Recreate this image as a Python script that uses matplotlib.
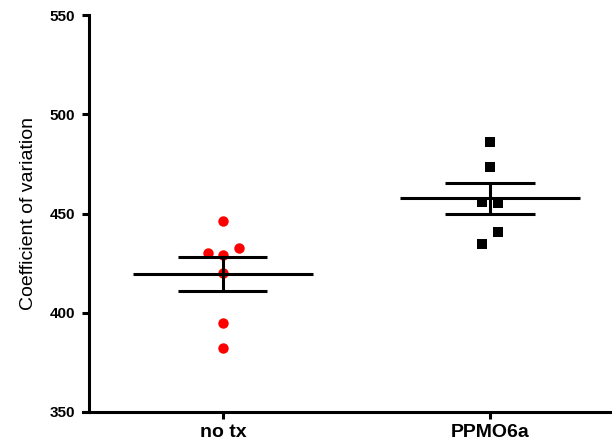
import numpy as np
import matplotlib
matplotlib.use("Agg")
import matplotlib.pyplot as plt

plt.rcParams['font.family'] = ['Liberation Sans', 'DejaVu Sans']

# Coefficient of variation per sample
groups = ["no tx", "PPMO6a"]
no_tx = [446.2, 430.3, 432.8, 429.1, 419.9, 395.0, 382.4]
ppmo6a = [485.9, 473.6, 455.9, 455.1, 440.5, 434.6]

# horizontal spread of overlapping points (scatter layout)
no_tx_dx = [0, -0.056, 0.060, 0, 0, 0, 0]
ppmo6a_dx = [0, 0, -0.030, 0.030, 0.030, -0.030]

fig = plt.figure(figsize=(6.12, 4.43), dpi=100)
ax = fig.add_axes([0.146, 0.070, 0.854, 0.896])

data = [no_tx, ppmo6a]
offsets = [no_tx_dx, ppmo6a_dx]
styles = [dict(marker='o', color='#ff0000', ms=7.5),
          dict(marker='s', color='black', ms=7)]

for i, (vals, dx, st) in enumerate(zip(data, offsets, styles)):
    vals = np.array(vals)
    mean = vals.mean()
    sem = vals.std(ddof=1) / np.sqrt(len(vals))
    ax.plot(i + np.array(dx), vals, linestyle='none', marker=st['marker'],
            color=st['color'], markersize=st['ms'], markeredgewidth=0, zorder=2)
    ax.hlines(mean, i - 0.336, i + 0.336, color='black', lw=2.2, zorder=3)
    ax.hlines([mean - sem, mean + sem], i - 0.167, i + 0.167, color='black', lw=2.2, zorder=3)
    ax.vlines(i, mean - sem, mean + sem, color='black', lw=2.2, zorder=3)

ax.set_xlim(-0.5, 1.457)
ax.set_ylim(350, 550)
ax.set_yticks([350, 400, 450, 500, 550])
ax.set_xticks([0, 1])
ax.set_xticklabels(groups)

for s in ['top', 'right']:
    ax.spines[s].set_visible(False)
for s in ['left', 'bottom']:
    ax.spines[s].set_linewidth(2.2)
ax.spines['bottom'].set_bounds(-0.525, 1.457)

ax.tick_params(axis='both', width=2.2, length=5)
ax.tick_params(axis='y', labelsize=11, pad=5)
ax.tick_params(axis='x', labelsize=14, pad=4)
for lab in ax.get_xticklabels() + ax.get_yticklabels():
    lab.set_fontweight('bold')

ax.set_ylabel("Coefficient of variation", fontsize=14, labelpad=9)

fig.savefig("out.png", dpi=100)
